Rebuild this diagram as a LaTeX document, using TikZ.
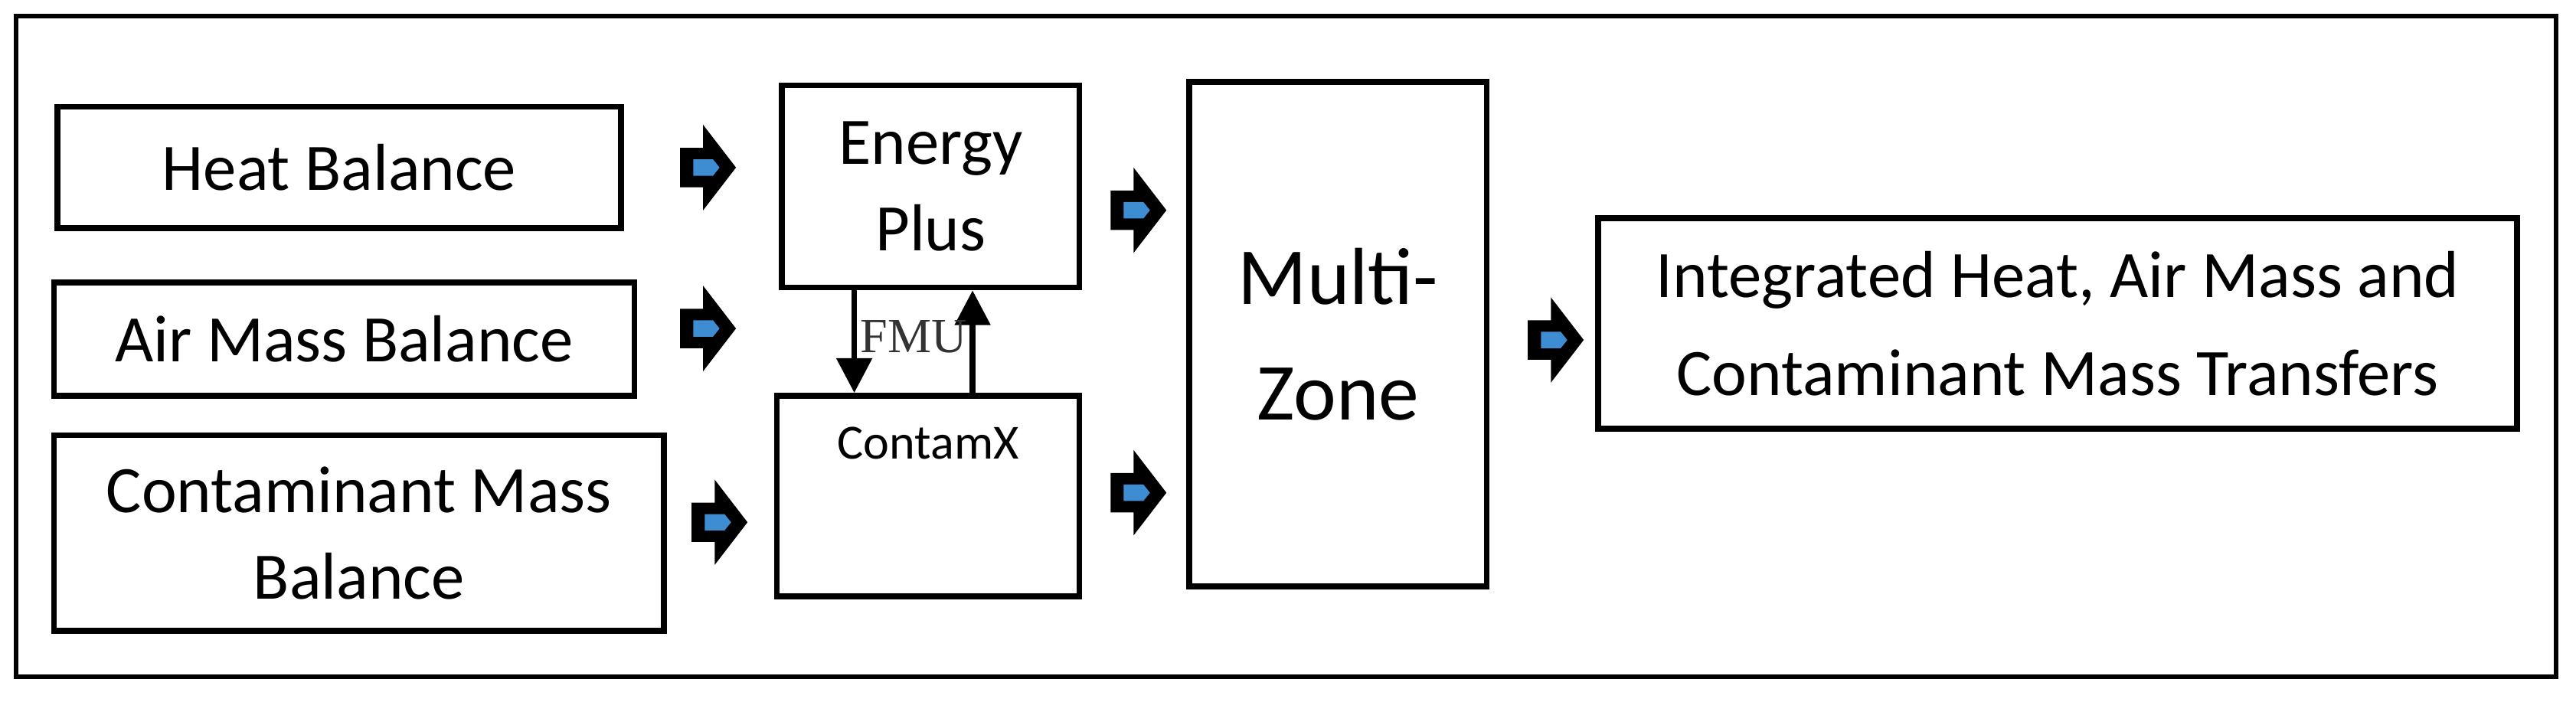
\documentclass[tikz,border=0pt]{standalone}
\usepackage{fontspec}
\usetikzlibrary{arrows.meta}
\setmainfont{Carlito}
\newfontfamily\serifx{Liberation Serif}
\begin{document}
\begin{tikzpicture}[x=0.01cm,y=-0.01cm,
  box/.style={draw,line width=1pt,align=center,font=\fontsize{11.5}{15}\selectfont},
  barrow/.pic={\fill (0,-12)--(14,-12)--(14,-26)--(34,0)--(14,26)--(14,12)--(0,12)--cycle;
               \fill[cyan!60!blue!80] (8,-5)--(20,-5)--(24,0)--(20,5)--(8,5)--cycle;}]
\useasboundingbox (0,0) rectangle (1568,427);
\draw[line width=0.8pt] (10,10) rectangle (1556,412);
\node[box] (hb) at (206.5,102) [minimum width=3.43cm,minimum height=0.74cm] {Heat Balance};
\node[box] (am) at (209.5,206.5) [minimum width=3.53cm,minimum height=0.69cm] {Air Mass Balance};
\node[box] (cm) at (218.5,324.5) [minimum width=3.71cm,minimum height=1.19cm] {Contaminant Mass\\Balance};
\node[box] (ep) at (566.5,113.5) [minimum width=1.81cm,minimum height=1.23cm] {Energy\\Plus};
\node[box] (cx) at (565,302) [minimum width=1.84cm,minimum height=1.22cm] {};
\node[font=\fontsize{8.5}{10}\selectfont] (cxl) at (565,270) {ContamX};
\node[box,font=\fontsize{14}{20}\selectfont] (mz) at (814.5,203.5) [minimum width=1.81cm,minimum height=3.07cm] {Multi-\\Zone};
\node[box,font=\fontsize{11.5}{17}\selectfont] (it) at (1252.5,197) [minimum width=5.59cm,minimum height=1.28cm] {Integrated Heat, Air Mass and\\Contaminant Mass Transfers};
\draw[line width=1pt,-{Triangle[width=6pt,length=6pt]}] (ep.south -| 520,0) -- (cx.north -| 520,0);
\draw[line width=1pt,-{Triangle[width=6pt,length=6pt]}] (cx.north -| 592,0) -- (ep.south -| 592,0);
\node[font=\serifx\fontsize{8.5}{10}\selectfont,text=black!80,inner sep=0pt] (fmu) at (556,205) {FMU};
\pic at (414,102) {barrow};
\pic at (414,200) {barrow};
\pic at (421,318) {barrow};
\pic at (676,128) {barrow};
\pic at (676,300) {barrow};
\pic at (930,207) {barrow};
\end{tikzpicture}
\end{document}
